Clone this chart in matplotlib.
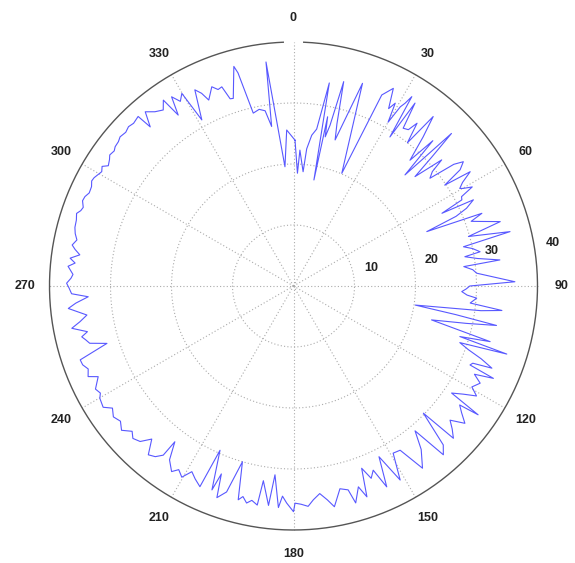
import numpy as np
import matplotlib
matplotlib.use('Agg')
import matplotlib.pyplot as plt

# ---- data (angle in degrees, clockwise from north) ----
angle_deg = [
    0.6, 2.0, 2.7, 4.8, 5.5, 6.9, 8.4, 10.0, 10.9, 11.4,
    12.0, 12.8, 13.8, 15.0, 15.9, 17.0, 18.8, 23.2, 24.8, 26.8,
    28.2, 29.1, 30.0, 30.8, 31.4, 32.0, 32.9, 33.6, 34.8, 36.3,
    37.2, 38.5, 39.5, 41.0, 42.8, 43.8, 45.1, 46.0, 47.0, 48.0,
    49.6, 50.5, 51.7, 52.8, 53.8, 55.1, 56.3, 57.1, 58.5, 59.6,
    60.1, 61.0, 62.0, 62.9, 63.9, 64.4, 65.8, 66.8, 67.8, 68.9,
    70.0, 71.0, 72.7, 74.2, 75.9, 77.0, 78.2, 79.6, 80.3, 81.5,
    82.8, 83.5, 84.8, 86.0, 87.5, 88.9, 90.0, 91.0, 91.9, 93.0,
    93.8, 95.5, 96.7, 97.5, 98.9, 100.0, 101.0, 102.2, 103.8, 105.0,
    105.8, 106.9, 107.7, 108.8, 110.0, 111.2, 112.5, 113.3, 114.1, 114.8,
    116.0, 117.5, 119.5, 121.0, 122.5, 124.1, 124.9, 125.6, 127.0, 128.7,
    130.6, 132.0, 133.6, 134.4, 136.7, 138.4, 140.0, 142.0, 144.7, 147.0,
    149.2, 151.2, 153.4, 155.1, 156.6, 158.0, 159.5, 160.8, 162.1, 164.0,
    165.0, 167.1, 169.5, 171.0, 172.8, 174.7, 176.2, 178.0, 179.6, 180.0,
    181.8, 183.0, 183.9, 185.6, 186.5, 188.8, 189.4, 191.0, 192.2, 193.5,
    194.5, 196.2, 198.0, 199.9, 201.0, 201.8, 204.1, 205.0, 207.0, 208.7,
    210.3, 212.0, 213.3, 215.5, 217.3, 217.6, 219.0, 220.7, 222.8, 224.6,
    226.5, 228.0, 230.0, 232.0, 234.0, 236.0, 237.5, 239.9, 241.0, 242.5,
    245.1, 246.2, 248.0, 249.5, 250.9, 252.9, 254.3, 255.5, 256.5, 257.5,
    259.2, 260.5, 262.0, 264.3, 265.5, 267.0, 268.0, 269.5, 270.7, 272.0,
    273.0, 275.0, 276.0, 277.1, 278.3, 279.5, 280.5, 282.0, 283.5, 285.0,
    286.9, 288.5, 289.5, 290.5, 292.0, 293.2, 294.5, 296.2, 297.5, 298.5,
    300.0, 300.8, 302.0, 303.0, 304.5, 305.5, 307.0, 308.0, 309.5, 310.7,
    312.5, 314.0, 315.5, 317.5, 318.0, 319.6, 321.5, 323.5, 325.0, 326.0,
    327.2, 328.5, 329.9, 331.1, 333.3, 334.5, 335.5, 337.7, 339.0, 340.2,
    341.3, 342.2, 344.8, 345.4, 346.9, 349.0, 350.8, 352.2, 353.0, 355.9,
    357.5,
]
radius = [
    23.9, 18.5, 22.3, 18.8, 22.6, 24.9, 26.0, 33.8, 17.7, 28.3,
    25.0, 27.0, 34.5, 27.5, 24.9, 28.0, 35.1, 20.1, 34.5, 36.3,
    33.0, 34.3, 31.0, 34.2, 35.1, 36.6, 29.1, 36.0, 31.5, 31.8,
    33.5, 30.0, 36.0, 32.4, 28.1, 33.0, 25.8, 36.0, 31.0, 26.8,
    31.9, 29.5, 28.5, 33.0, 34.5, 33.3, 29.8, 34.5, 32.5, 31.6,
    32.1, 33.5, 31.2, 31.0, 27.1, 32.7, 31.1, 29.0, 23.6, 33.1,
    31.0, 32.5, 35.5, 29.8, 36.6, 28.6, 30.0, 31.1, 28.5, 30.5,
    34.1, 28.1, 29.5, 30.1, 33.0, 36.3, 28.9, 28.3, 27.6, 28.5,
    30.1, 29.1, 34.4, 31.0, 20.2, 27.0, 33.9, 29.0, 23.3, 28.5,
    33.5, 28.5, 36.7, 28.8, 30.5, 33.0, 35.2, 32.0, 31.7, 36.1,
    33.0, 34.5, 33.6, 35.0, 33.0, 31.3, 36.9, 33.5, 34.5, 36.0,
    33.8, 35.0, 36.2, 29.8, 35.8, 37.0, 31.0, 34.0, 36.6, 32.1,
    31.9, 36.3, 31.3, 36.3, 32.9, 34.0, 31.9, 36.6, 34.6, 37.0,
    34.6, 34.1, 36.8, 35.5, 34.3, 35.2, 36.2, 35.8, 35.6, 37.0,
    35.6, 34.5, 36.4, 31.1, 36.2, 32.3, 36.4, 35.8, 36.4, 35.5,
    36.2, 30.0, 35.5, 36.9, 33.0, 36.0, 29.5, 36.3, 35.5, 34.7,
    36.3, 35.5, 36.4, 35.0, 32.1, 35.0, 36.0, 36.5, 34.2, 35.8,
    36.3, 35.6, 36.8, 36.0, 36.5, 35.8, 37.0, 36.7, 36.2, 36.6,
    35.3, 36.8, 36.3, 36.9, 37.0, 32.0, 34.7, 35.2, 35.7, 34.6,
    37.0, 35.5, 34.2, 37.1, 35.8, 33.7, 36.4, 36.8, 37.2, 36.5,
    36.2, 37.1, 36.0, 36.9, 35.4, 36.3, 36.9, 36.3, 36.8, 37.1,
    37.2, 37.5, 37.0, 36.8, 37.3, 37.2, 36.8, 36.9, 37.3, 37.2,
    36.8, 36.6, 37.0, 36.2, 36.6, 37.0, 36.8, 37.1, 37.2, 37.5,
    37.3, 37.6, 37.4, 37.7, 35.1, 37.5, 36.5, 35.9, 37.2, 33.8,
    36.9, 35.5, 36.5, 31.1, 36.0, 35.0, 33.5, 35.3, 34.5, 34.7,
    32.4, 32.3, 37.3, 36.1, 29.1, 29.5, 29.1, 26.4, 37.0, 19.6,
    25.6,
]
ring_values = [10, 20, 30]
r_max = 40
r_tick_values = [10, 20, 30, 40]
r_tick_labels = ['10', '20', '30', '40']
angle_ticks = [0, 30, 60, 90, 120, 150, 180, 210, 240, 270, 300, 330]
angle_tick_labels = ['0', '30', '60', '90', '120', '150', '180', '210', '240',
                     '270', '300', '330']

W, H = 575, 563
fig = plt.figure(figsize=(W / 100, H / 100), dpi=100)
cx, cy, R = 293.5, 563 - 286, 244
ax = fig.add_axes([(cx - R) / W, (cy - R) / H, 2 * R / W, 2 * R / H],
                  projection='polar')
ax.set_theta_zero_location('N')
ax.set_theta_direction(-1)
ax.set_ylim(0, r_max)
ax.set_axis_off()

grid_kw = dict(color='#ababab', lw=0.8, linestyle=(0, (1, 2)), zorder=1)
full = np.linspace(0, 2 * np.pi, 721)
for rv in ring_values:
    ax.plot(full, np.full_like(full, rv), **grid_kw)
for a in angle_ticks:
    t = np.deg2rad(a)
    ax.plot([t, t], [0, r_max], clip_on=False, **grid_kw)

# outer circle (small gap at the top as in the reference)
outer = np.deg2rad(np.linspace(2.4, 357.6, 720))
ax.plot(outer, np.full_like(outer, r_max), color='#555555', lw=1.0,
        clip_on=False, zorder=2)

# data line (closed)
th = np.deg2rad(np.array(angle_deg + [angle_deg[0] + 360]))
rr = np.array(radius + [radius[0]])
ax.plot(th, rr, color='#5858ff', lw=0.8, zorder=3)

font_kw = dict(family=['Liberation Sans', 'DejaVu Sans'], fontsize=9,
               fontweight='bold', color='#222222')
for a, lab in zip(angle_ticks, angle_tick_labels):
    ax.text(np.deg2rad(a), r_max * 1.1, lab, ha='center', va='center',
            clip_on=False, **font_kw)
for v, lab in zip(r_tick_values, r_tick_labels):
    ax.annotate(lab, xy=(np.deg2rad(82), v + 0.5), xytext=(10.4, 6.3),
                textcoords='offset points', ha='center', va='center',
                annotation_clip=False, **font_kw)

fig.savefig('out.png', dpi=100)
